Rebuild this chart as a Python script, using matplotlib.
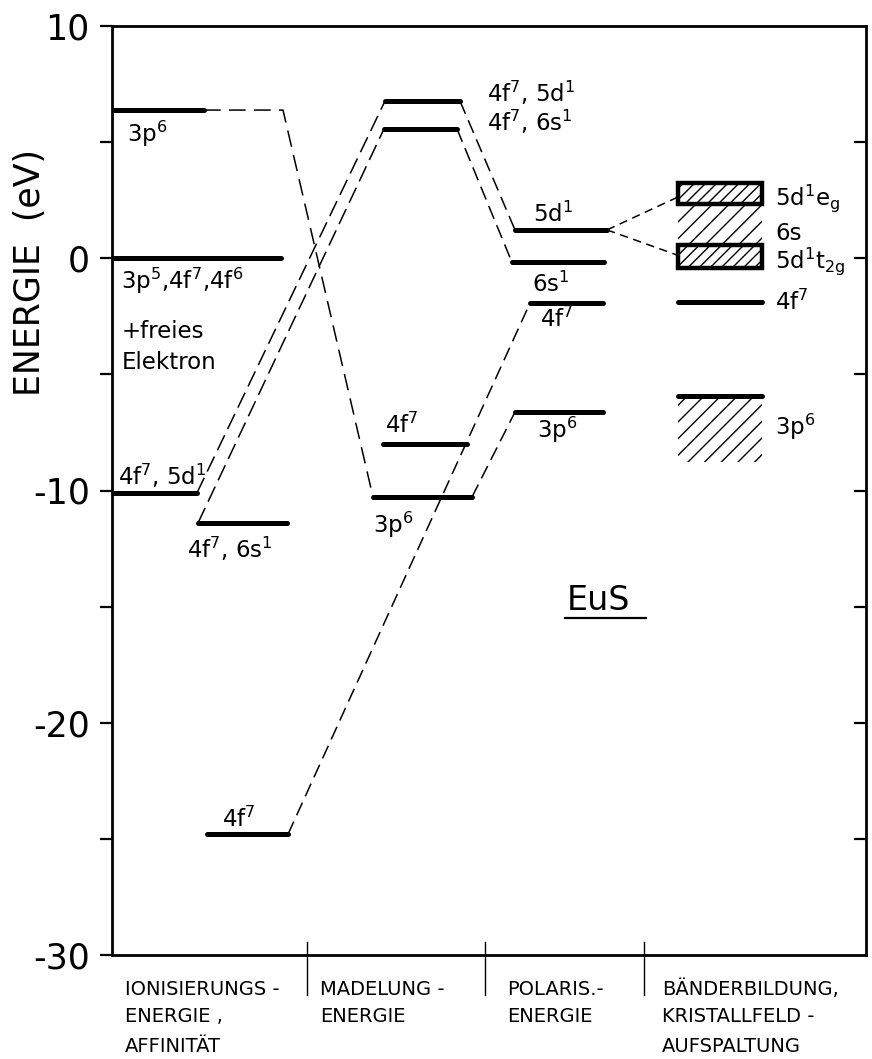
import matplotlib
matplotlib.use('Agg')
import matplotlib.pyplot as plt
from matplotlib.patches import Rectangle

plt.rcParams['font.family'] = ['DejaVu Sans']
plt.rcParams['mathtext.default'] = 'regular'
plt.rcParams['axes.unicode_minus'] = False
plt.rcParams['hatch.linewidth'] = 1.0
plt.rcParams['hatch.color'] = 'black'
plt.rcParams['lines.scale_dashes'] = False

# ---------------- data ----------------
stages = ["IONISIERUNGS -\nENERGIE ,\nAFFINITÄT", "MADELUNG -\nENERGIE",
          "POLARIS.-\nENERGIE", "BÄNDERBILDUNG,\nKRISTALLFELD -\nAUFSPALTUNG"]

ion_labels = ["3p$^6$", "3p$^5$,4f$^7$,4f$^6$", "4f$^7$, 5d$^1$", "4f$^7$, 6s$^1$", "4f$^7$"]
ion_E = [6.38, 0.0, -10.1, -11.4, -24.8]
ion_note = "+freies\nElektron"

mad_labels = ["4f$^7$, 5d$^1$", "4f$^7$, 6s$^1$", "4f$^7$", "3p$^6$"]
mad_E = [6.77, 5.57, -8.0, -10.28]

pol_labels = ["5d$^1$", "6s$^1$", "4f$^7$", "3p$^6$"]
pol_E = [1.22, -0.18, -1.93, -6.62]

band_labels = ["5d$^1$e$_g$", "6s", "5d$^1$t$_{2g}$", "4f$^7$", "3p$^6$"]
band_lo = [2.34, 0.57, -0.42, -1.88, -8.77]
band_hi = [3.24, 2.34, 0.57, -1.88, -5.93]

compound = "EuS"

# ---------------- layout (pixels) ----------------
W, H = 872, 1059
AX_L, AX_R, AX_T, AX_B = 112, 866, 26, 955
YMIN, YMAX = -30, 10


def ey(py):
    """pixel row -> energy (layout helper)"""
    return YMAX - (py - AX_T) * (YMAX - YMIN) / (AX_B - AX_T)


ion_x = [(112, 204), (112, 281), (112, 197), (198, 287), (207, 288)]
ion_lab = [(127, 142), (121, 289), (118, 485), (187, 558), (222, 827)]
mad_x = [(385, 460), (384, 457), (383, 467), (373, 472)]
mad_lab = [(487, 102), (487, 131), (385, 433), (373, 533)]
pol_x = [(515, 607), (512, 604), (530, 603), (515, 603)]
pol_lab = [(533, 222), (532, 292), (540, 327), (537, 438)]
band_x = (678, 762)
band_lab = [(775, 205), (775, 240), (775, 268), (775, 310), (775, 435)]

LEVEL_LW = 3.6
DASH_LW = 1.1
LABEL_FS = 16.5

fig = plt.figure(figsize=(W / 100, H / 100), dpi=100)
ax = fig.add_axes([AX_L / W, 1 - AX_B / H, (AX_R - AX_L) / W, (AX_B - AX_T) / H])
ax.set_xlim(AX_L, AX_R)
ax.set_ylim(YMIN, YMAX)


def level(x0, x1, e):
    ax.plot([x0, x1], [e, e], color='black', lw=LEVEL_LW, solid_capstyle='round', zorder=3)


def dash(xs, es, d=(10, 5), lw=DASH_LW):
    ax.plot(xs, es, color='black', lw=lw, dashes=d, zorder=2)


def label(px, pyb, s, fs=LABEL_FS):
    ax.text(px, ey(pyb), s, fontsize=fs, ha='left', va='baseline', zorder=4)


# column 1: ionisation energy / affinity
for (x0, x1), e, s, (lx, lb) in zip(ion_x, ion_E, ion_labels, ion_lab):
    level(x0, x1, e)
    label(lx, lb, s)
label(122, 338, ion_note.split('\n')[0])
label(122, 369, ion_note.split('\n')[1])

# column 2: Madelung energy
for (x0, x1), e, s, (lx, lb) in zip(mad_x, mad_E, mad_labels, mad_lab):
    level(x0, x1, e)
    label(lx, lb, s)

# column 3: polarisation energy
for (x0, x1), e, s, (lx, lb) in zip(pol_x, pol_E, pol_labels, pol_lab):
    level(x0, x1, e)
    label(lx, lb, s)

# column 4: bands / crystal field splitting
bx0, bx1 = band_x
# 5d eg box
ax.add_patch(Rectangle((bx0, band_lo[0]), bx1 - bx0, band_hi[0] - band_lo[0],
                       facecolor='white', edgecolor='black', lw=3.2, hatch='///', zorder=3))
# 6s band (hatch only)
ax.add_patch(Rectangle((bx0, band_lo[1]), bx1 - bx0, band_hi[1] - band_lo[1],
                       facecolor='none', edgecolor='black', lw=0, hatch='//', zorder=2))
# 5d t2g box
ax.add_patch(Rectangle((bx0, band_lo[2]), bx1 - bx0, band_hi[2] - band_lo[2],
                       facecolor='white', edgecolor='black', lw=3.2, hatch='///', zorder=3))
# 4f7 level
level(bx0, bx1, band_lo[3])
# 3p6 band: hatched with thick top edge
ax.add_patch(Rectangle((bx0, band_lo[4]), bx1 - bx0, band_hi[4] - band_lo[4],
                       facecolor='none', edgecolor='black', lw=0, hatch='//', zorder=2))
level(bx0, bx1, band_hi[4])
for s, (lx, lb) in zip(band_labels, band_lab):
    label(lx, lb, s)

# ---------------- dashed connections ----------------
# 3p6: ionisation -> Madelung -> polarisation
dash([ion_x[0][1], 283, mad_x[3][0]], [ion_E[0], ion_E[0], mad_E[3]], d=(12, 6))
dash([mad_x[3][1], pol_x[3][0]], [mad_E[3], pol_E[3]])
# 4f7 5d1 and 4f7 6s1
dash([ion_x[2][1], mad_x[0][0]], [ion_E[2], mad_E[0]], d=(12, 5))
dash([ion_x[3][0], mad_x[1][0]], [ion_E[3], mad_E[1]], d=(12, 5))
dash([mad_x[0][1], pol_x[0][0]], [mad_E[0], pol_E[0]])
dash([mad_x[1][1], pol_x[1][0]], [mad_E[1], pol_E[1]])
# 4f7 ionisation -> polarisation
dash([ion_x[4][1], pol_x[2][0]], [ion_E[4], pol_E[2]])
# crystal field splitting of 5d1
eg_mid = band_lo[0] + 0.33 * (band_hi[0] - band_lo[0])
t2g_mid = band_lo[2] + 0.55 * (band_hi[2] - band_lo[2])
dash([pol_x[0][1], bx0], [pol_E[0], eg_mid], d=(6, 4))
dash([pol_x[0][1], bx0], [pol_E[0], t2g_mid], d=(6, 4))

# compound name, underlined
ax.text(567, ey(610), compound, fontsize=24, ha='left', va='baseline')
ax.plot([565, 646], [ey(618), ey(618)], color='black', lw=1.6, clip_on=False)

# ---------------- axes styling ----------------
for sp in ax.spines.values():
    sp.set_linewidth(2.0)
ax.set_xticks([])
ax.set_yticks([-30, -20, -10, 0, 10])
ax.set_yticks([-25, -15, -5, 5], minor=True)
ax.tick_params(axis='y', which='both', direction='out', length=9, width=1.6,
               labelsize=25, pad=7)

ax2 = ax.twinx()
ax2.set_ylim(YMIN, YMAX)
ax2.set_yticks(list(range(-25, 10, 5)))
ax2.tick_params(axis='y', direction='in', length=9, width=1.6, labelright=False)
for sp in ax2.spines.values():
    sp.set_visible(False)

fig.text(30 / W, 1 - 272 / H, "ENERGIE  (eV)", rotation=90, fontsize=25,
         ha='center', va='center')

# stage separators and names below the axis
for sx in [307, 485, 644]:
    ax.plot([sx, sx], [ey(942), ey(995)], color='black', lw=1.0, clip_on=False)
stage_left = [125, 320, 507, 662]
row_base = [995, 1022, 1052]
for name, lx in zip(stages, stage_left):
    for i, row in enumerate(name.split('\n')):
        fig.text(lx / W, 1 - row_base[i] / H, row, fontsize=14, ha='left', va='baseline')

fig.savefig('out.png', dpi=100)
